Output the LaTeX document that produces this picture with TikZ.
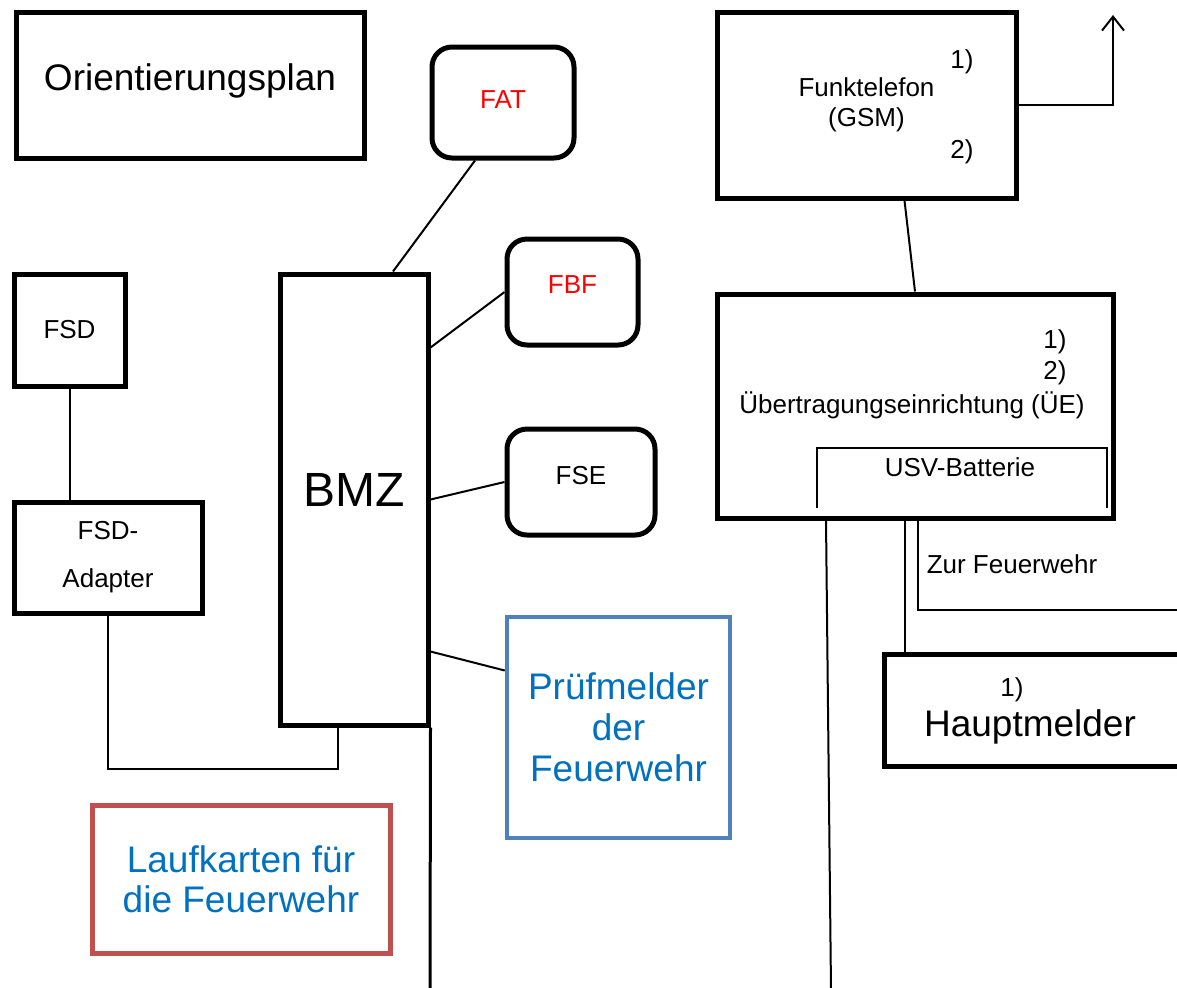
\documentclass[tikz,border=0pt]{standalone}
\usepackage{fontspec}
\setmainfont{Liberation Sans}
\usetikzlibrary{calc}
\usetikzlibrary{arrows.meta}

\definecolor{pruefblau}{RGB}{79,129,189}
\definecolor{textblau}{RGB}{0,112,192}
\definecolor{kartenrot}{RGB}{192,80,77}

\begin{document}
\begin{tikzpicture}[x=0.5pt,y=-0.5pt,
						box/.style={draw,line width=2.5pt,inner sep=0pt},
						rbox/.style={box,rounded corners=10pt},
						klein/.style={font=\fontsize{13}{15}\selectfont},
						gross/.style={font=\fontsize{18.5}{21}\selectfont},
						leitung/.style={line width=1pt}
						]
						\useasboundingbox (0,0) rectangle (1177,987);
						\clip (0,0) rectangle (1177,987);
						% linke Seite
						\node[box,gross,text depth=8pt,minimum width=174pt,minimum height=73pt] (plan) at (190,85) {Orientierungsplan};
						\node[rbox,klein,text=red,text depth=3pt,minimum width=71pt,minimum height=55.5pt] (fat) at (503,102.5) {FAT};
						\node[rbox,klein,text=red,text depth=7pt,minimum width=65.5pt,minimum height=53pt] (fbf) at (572.5,292) {FBF};
						\node[rbox,klein,text depth=7pt,minimum width=74pt,minimum height=53pt] (fse) at (581,482) {FSE};
						\node[box,font=\fontsize{24}{28}\selectfont,text depth=10pt,minimum width=74pt,minimum height=225.5pt] (bmz) at (354,499.5) {BMZ};
						\node[box,klein,minimum width=55.5pt,minimum height=56pt] (fsd) at (69.5,330) {FSD};
						\node[box,font=\fontsize{13}{24}\selectfont,align=center,minimum width=94pt,minimum height=55.5pt] (adapter) at (108,557.5) {FSD-\\Adapter};
						\node[draw=pruefblau,line width=2.2pt,inner sep=0pt,text=textblau,align=center,font=\fontsize{18.5}{20.5}\selectfont,minimum width=111.5pt,minimum height=110.5pt] (pruef) at (618.5,727.5) {Prüfmelder\\der\\Feuerwehr};
						\node[draw=kartenrot,line width=2.5pt,inner sep=0pt,text=textblau,align=center,font=\fontsize{18.5}{20}\selectfont,minimum width=149pt,minimum height=74pt] (lauf) at (241,879) {Laufkarten für\\die Feuerwehr};
						% rechte Seite
						\node[box,klein,align=center,minimum width=149.5pt,minimum height=93pt] (gsm) at (866.5,105) {Funktelefon\\(GSM)};
						\node[klein] (gsm1) at (962,62) {1)};
						\node[klein] (gsm2) at (962,152) {2)};
						\node[box,minimum width=198pt,minimum height=112pt] (ue) at (915,406) {};
						\node[klein] (ue1) at (1055,342) {1)};
						\node[klein] (ue2) at (1055,373) {2)};
						\node[klein] (uetext) at (912,405) {Übertragungseinrichtung (ÜE)};
						\node[klein] (usv) at (960,467) {USV-Batterie};
						\draw[line width=1.2pt] (817,508) -- (817,448) -- (1107,448) -- (1107,508);
						\node[box,minimum width=152.5pt,minimum height=56pt] (haupt) at (1037,710) {};
						\node[klein] (haupt1) at (1012,690) {1)};
						\node[gross] (hauptname) at (1030,727) {Hauptmelder};
						\node[klein] (zurfw) at (1012,564) {Zur Feuerwehr};
						\coordinate (funk) at (1113,15);
						\coordinate (fw) at (1180,610);
						\coordinate (unten1) at (430,990);
						\coordinate (unten2) at (831,990);
						% Verbindungen
						\draw[leitung] ($(bmz.north)+(39,0)$) -- ($(fat.south)+(-28,0)$);
						\draw[leitung] ($(bmz.east)+(0,-152)$) -- (fbf.west);
						\draw[leitung] (bmz.east) -- (fse.west);
						\draw[leitung] ($(bmz.east)+(0,152)$) -- ($(pruef.west)+(0,-57)$);
						\draw[line width=1.5pt] (bmz.south east) -- (unten1);
						\draw[leitung] (fsd.south) -- (adapter.north -| fsd.south);
						\draw[leitung] (adapter.south) -- ++(0,153) -| ($(bmz.south)+(-16,0)$);
						\draw[leitung] ($(gsm.south)+(38,0)$) -- (ue.north);
						\draw[leitung,-{Straight Barb[length=7pt,width=11pt]}] (gsm.east) -| (funk);
						\draw[leitung] ($(ue.south)+(-89,0)$) -- (unten2);
						\draw[leitung] ($(ue.south)+(-10,0)$) coordinate (h1) -- (h1 |- haupt.north);
						\draw[leitung] ($(ue.south)+(3,0)$) |- (fw);
						\end{tikzpicture}
\end{document}
